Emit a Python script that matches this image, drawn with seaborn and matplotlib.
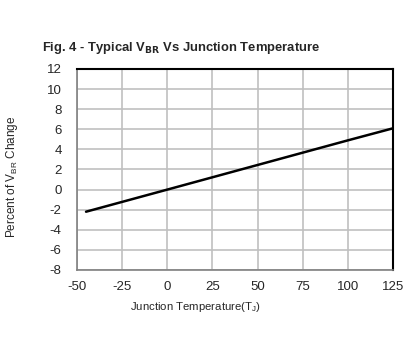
import pandas as pd
import matplotlib
matplotlib.use('Agg')
import matplotlib.pyplot as plt
import seaborn as sns

# Data
temps = [-45, 0, 50, 100, 125]
vbr_change = [-2.2, 0.0, 2.45, 4.9, 6.1]
x_ticks = [-50, -25, 0, 25, 50, 75, 100, 125]
y_ticks = [-8, -6, -4, -2, 0, 2, 4, 6, 8, 10, 12]

data = pd.DataFrame({'Temp': temps, 'Change': vbr_change})

sns.set_style('white')
plt.rcParams['font.family'] = ['Liberation Sans', 'DejaVu Sans']
plt.rcParams['mathtext.default'] = 'regular'
plt.rcParams['axes.unicode_minus'] = False

fig = plt.figure(figsize=(4.08, 3.54), dpi=100)
ax = fig.add_axes([77 / 408, 1 - 270 / 354, 316 / 408, 201 / 354])

sns.lineplot(x='Temp', y='Change', data=data, color='black', linewidth=1.8, ax=ax)

ax.set_xlim(-50, 125)
ax.set_ylim(-8, 12)
ax.set_xticks(x_ticks)
ax.set_yticks(y_ticks)
ax.tick_params(labelsize=9.5, length=0)
ax.tick_params(axis='y', pad=11)
ax.tick_params(axis='x', pad=8)
ax.grid(True, color='#c0c0c0', linewidth=1.2)
ax.set_axisbelow(True)

for side in ['left', 'bottom']:
    ax.spines[side].set_color('#808080')
    ax.spines[side].set_linewidth(1.2)
for side in ['top', 'right']:
    ax.spines[side].set_color('black')
    ax.spines[side].set_linewidth(1.5)

ax.set_xlabel('')
ax.set_ylabel('')
fig.text(195 / 408, 1 - 307 / 354, r'Junction Temperature(T$_{J}$)', fontsize=8.2,
         ha='center', va='center')
fig.text(12 / 408, 1 - 177 / 354, r'Percent of V$_{BR}$ Change', fontsize=8.5,
         ha='center', va='center', rotation=90)
fig.text(42 / 408, 1 - 48 / 354, r'Fig. 4 - Typical V$_{\mathbf{BR}}$ Vs Junction Temperature',
         fontsize=9.4, fontweight='bold', ha='left', va='center')

fig.savefig('out.png', dpi=100)
